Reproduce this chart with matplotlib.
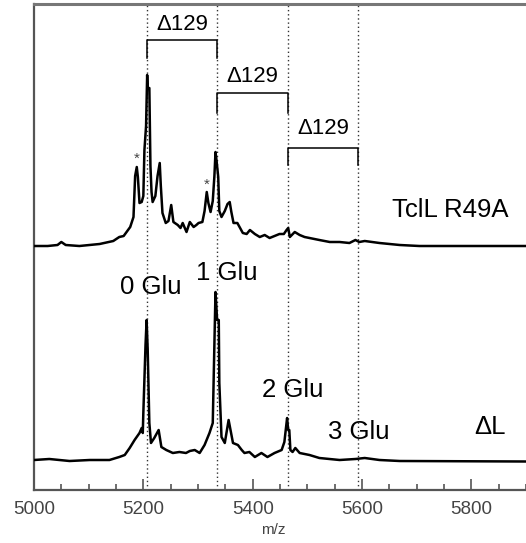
import matplotlib
matplotlib.use("Agg")
import matplotlib.pyplot as plt
from matplotlib.ticker import MultipleLocator
import numpy as np

plt.rcParams['font.family'] = ['Liberation Sans', 'DejaVu Sans']

# ---- data ----
# Upper spectrum: TclL R49A
upper_mz = [5000, 5025, 5043, 5050, 5058, 5083, 5120, 5145, 5156, 5164, 5176, 5182,
            5185, 5188, 5190, 5193, 5197, 5200, 5202, 5205, 5207, 5208, 5209, 5211,
            5213, 5215, 5217, 5222, 5226, 5230, 5232, 5235, 5241, 5246, 5251, 5255,
            5263, 5268, 5272, 5279, 5285, 5292, 5297, 5301, 5308, 5312, 5316, 5319,
            5323, 5327, 5330, 5332, 5334, 5337, 5339, 5343, 5349, 5354, 5358, 5361,
            5365, 5372, 5376, 5382, 5389, 5395, 5404, 5413, 5422, 5431, 5440, 5449,
            5457, 5462, 5465, 5468, 5477, 5486, 5495, 5504, 5522, 5541, 5559, 5577,
            5588, 5595, 5605, 5632, 5669, 5705, 5778, 5900]
upper_int = [0, 0, 1, 4, 1, 0, 2, 5, 9, 10, 19, 29,
             70, 79, 69, 43, 44, 50, 96, 120, 171, 158, 158, 158,
             80, 54, 44, 50, 70, 83, 60, 33, 23, 25, 41, 24,
             21, 18, 23, 14, 24, 19, 21, 23, 24, 35, 54, 43,
             34, 45, 70, 94, 85, 69, 35, 29, 35, 42, 44, 34,
             23, 23, 19, 13, 12, 16, 12, 9, 11, 8, 10, 12,
             12, 16, 18, 9, 14, 11, 9, 8, 6, 4, 4, 3,
             6, 4, 5, 3, 1, 0, 0, 0]

# Lower spectrum: ΔL
lower_mz = [5000, 5028, 5065, 5102, 5138, 5156, 5166, 5175, 5184, 5193, 5197, 5199,
            5200, 5204, 5206, 5208, 5209, 5211, 5214, 5220, 5228, 5233, 5242, 5254,
            5266, 5278, 5285, 5294, 5303, 5312, 5321, 5327, 5329, 5332, 5335, 5338,
            5339, 5343, 5349, 5356, 5364, 5373, 5380, 5385, 5394, 5404, 5416, 5427,
            5440, 5453, 5458, 5463, 5465, 5467, 5469, 5473, 5478, 5486, 5504, 5522,
            5559, 5588, 5605, 5632, 5669, 5900]
lower_int = [0, 1, -1, 0, 0, 3, 5, 12, 20, 27, 32, 27,
             47, 115, 140, 110, 85, 37, 17, 22, 30, 13, 10, 7,
             8, 7, 9, 10, 7, 15, 27, 37, 90, 168, 140, 140,
             77, 23, 17, 40, 17, 15, 10, 7, 8, 3, 7, 3,
             7, 10, 18, 42, 30, 30, 10, 8, 12, 7, 5, 2,
             0, 1, 2, 0, -1, -1.5]

glu_mz = [5206, 5335, 5464, 5593]
glu_labels = ['0 Glu', '1 Glu', '2 Glu', '3 Glu']
delta_label = 'Δ129'
trace_names = ['TclL R49A', 'ΔL']
xticks = [5000, 5200, 5400, 5600, 5800]

# ---- layout ----
W, H = 526, 543
fig = plt.figure(figsize=(W / 100, H / 100), dpi=100)
ax = fig.add_axes([34 / W, (H - 490) / H, (526 - 34) / W, (490 - 4) / H])
ax.set_xlim(5000, 5900)
ax.set_ylim(0, 486)

upper_off = 244
lower_off = 30

for m in glu_mz:
    ax.axvline(m, color='#333333', lw=1.0, ls=(0, (1, 2.0)), zorder=1)

ax.plot(upper_mz, np.array(upper_int) + upper_off, color='black', lw=1.8, zorder=3)
ax.plot(lower_mz, np.array(lower_int) + lower_off, color='black', lw=1.8, zorder=3)

# brackets
br_y = [450, 397, 342]
leg_y = [432, 377, 325]
lab_y = [465, 413, 361]
for i in range(3):
    a, b = glu_mz[i], glu_mz[i + 1]
    ax.plot([a, a, b, b], [leg_y[i], br_y[i], br_y[i], leg_y[i]], color='black', lw=1.1, zorder=4)
    ax.text((a + b) / 2, lab_y[i], delta_label, ha='center', va='center', fontsize=16)

# stars
ax.text(5188, 331, '*', ha='center', va='center', fontsize=11, color='#444444')
ax.text(5316, 305, '*', ha='center', va='center', fontsize=11, color='#444444')

# labels
ax.text(5761, 280, trace_names[0], ha='center', va='center', fontsize=18.5)
ax.text(5835, 63, trace_names[1], ha='center', va='center', fontsize=18.5)
glu_pos = [(5214, 203), (5353, 217), (5474, 100), (5594, 58)]
for (x, y), t in zip(glu_pos, glu_labels):
    ax.text(x, y, t, ha='center', va='center', fontsize=18.5)

# axes styling
ax.set_yticks([])
ax.set_xticks(xticks)
ax.xaxis.set_minor_locator(MultipleLocator(50))
ax.tick_params(axis='x', which='major', direction='in', length=8, width=1.2,
               color='#555555', labelsize=13.5, labelcolor='#444444', pad=8)
ax.tick_params(axis='x', which='minor', direction='in', length=4, width=1.2, color='#555555')
ax.spines['right'].set_visible(False)
ax.spines['left'].set_color('#555555')
ax.spines['left'].set_linewidth(1.6)
ax.spines['bottom'].set_color('#555555')
ax.spines['bottom'].set_linewidth(1.6)
ax.spines['top'].set_color('#777777')
ax.spines['top'].set_linewidth(2.2)

fig.text(273 / W, (H - 530) / H, 'm/z', ha='center', va='center', fontsize=11, color='#444444')

fig.savefig('out.png', dpi=100)
